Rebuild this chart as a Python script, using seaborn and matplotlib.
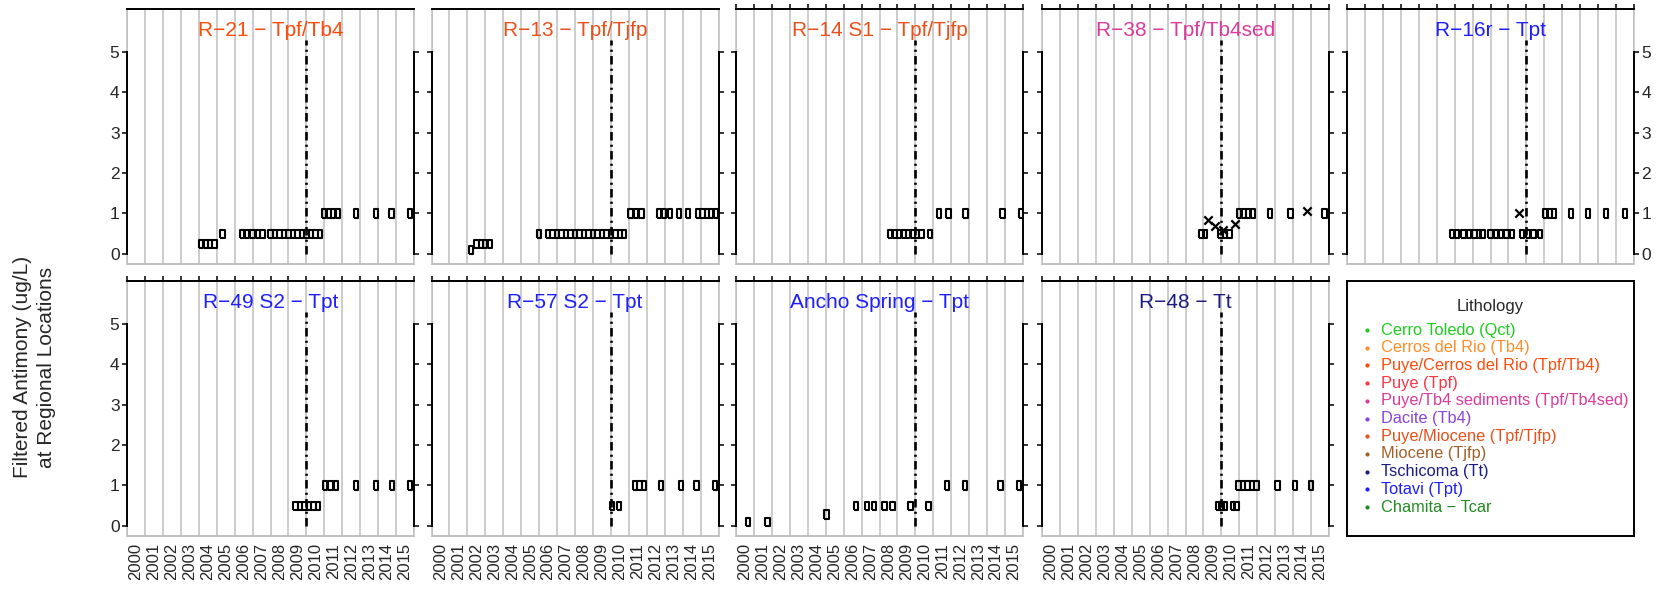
import matplotlib
matplotlib.use("Agg")
import matplotlib.pyplot as plt
from matplotlib.patches import Rectangle
from matplotlib.path import Path
import pandas as pd
import seaborn as sns

# years on the x axis, one bin per year
years = list(range(2000, 2016))
year_labels = [str(y) for y in years]
y_ticks = [0, 1, 2, 3, 4, 5]
change_year = 2010

# ---- R-21 ----
r21_nd_x = [2004.14, 2004.39, 2004.64, 2004.87, 2005.33, 2006.4, 2006.7, 2007.0, 2007.3, 2007.55,
            2008.0, 2008.25, 2008.5, 2008.75, 2009.0, 2009.25, 2009.5, 2009.75, 2010.0, 2010.25,
            2010.5, 2010.75, 2011.0, 2011.25, 2011.5, 2011.75, 2012.76, 2013.9, 2014.75, 2015.78]
r21_nd_y = [0.25, 0.25, 0.25, 0.25, 0.5, 0.5, 0.5, 0.5, 0.5, 0.5,
            0.5, 0.5, 0.5, 0.5, 0.5, 0.5, 0.5, 0.5, 0.5, 0.5,
            0.5, 0.5, 1, 1, 1, 1, 1, 1, 1, 1]

# ---- R-13 ----
r13_nd_x = [2002.2, 2002.5, 2002.75, 2003.0, 2003.25, 2006.0, 2006.5, 2006.75, 2007.0, 2007.25,
            2007.5, 2007.75, 2008.0, 2008.25, 2008.5, 2008.75, 2009.0, 2009.25, 2009.5, 2009.75,
            2010.0, 2010.25, 2010.5, 2010.75, 2011.1, 2011.4, 2011.7, 2012.7, 2012.95, 2013.3,
            2013.8, 2014.29, 2014.85, 2015.1, 2015.35, 2015.6, 2015.85]
r13_nd_y = [0.1, 0.25, 0.25, 0.25, 0.25, 0.5, 0.5, 0.5, 0.5, 0.5,
            0.5, 0.5, 0.5, 0.5, 0.5, 0.5, 0.5, 0.5, 0.5, 0.5,
            0.5, 0.5, 0.5, 0.5, 1, 1, 1, 1, 1, 1,
            1, 1, 1, 1, 1, 1, 1]

# ---- R-14 S1 ----
r14_nd_x = [2008.6, 2008.85, 2009.1, 2009.35, 2009.6, 2009.85, 2010.1, 2010.35, 2010.83,
            2011.3, 2011.84, 2012.8, 2014.86, 2015.87]
r14_nd_y = [0.5, 0.5, 0.5, 0.5, 0.5, 0.5, 0.5, 0.5, 0.5,
            1, 1, 1, 1, 1]

# ---- R-38 ----
r38_nd_x = [2008.9, 2009.1, 2009.95, 2010.2, 2010.45, 2011.0, 2011.25, 2011.5, 2011.75,
            2012.7, 2013.85, 2015.75]
r38_nd_y = [0.5, 0.5, 0.5, 0.5, 0.5, 1, 1, 1, 1, 1, 1, 1]
r38_det_x = [2009.27, 2009.66, 2010.1, 2010.75, 2014.8]
r38_det_y = [0.83, 0.69, 0.59, 0.75, 1.06]

# ---- R-16r ----
r16_nd_x = [2005.85, 2006.15, 2006.5, 2006.8, 2007.1, 2007.35, 2007.55, 2008.0, 2008.3, 2008.6,
            2008.9, 2009.2, 2009.75, 2010.1, 2010.4, 2010.75, 2011.05, 2011.3, 2011.55, 2012.47,
            2013.45, 2014.44, 2015.5]
r16_nd_y = [0.5, 0.5, 0.5, 0.5, 0.5, 0.5, 0.5, 0.5, 0.5, 0.5,
            0.5, 0.5, 0.5, 0.5, 0.5, 0.5, 1, 1, 1, 1,
            1, 1, 1]
r16_det_x = [2009.6]
r16_det_y = [1.0]

# ---- R-49 S2 ----
r49_nd_x = [2009.4, 2009.65, 2009.9, 2010.15, 2010.4, 2010.65, 2011.05, 2011.35, 2011.65,
            2012.78, 2013.9, 2014.78, 2015.78]
r49_nd_y = [0.5, 0.5, 0.5, 0.5, 0.5, 0.5, 1, 1, 1, 1, 1, 1, 1]

# ---- R-57 S2 ----
r57_nd_x = [2010.06, 2010.47, 2011.35, 2011.6, 2011.85, 2012.78, 2013.92, 2014.78, 2015.82]
r57_nd_y = [0.5, 0.5, 1, 1, 1, 1, 1, 1, 1]

# ---- Ancho Spring ----
ancho_nd_x = [2000.68, 2001.76, 2005.05, 2006.69, 2007.3, 2007.71, 2008.27, 2008.73, 2009.72,
              2010.74, 2011.77, 2012.75, 2014.75, 2015.77]
ancho_nd_y = [0.1, 0.1, 0.28, 0.5, 0.5, 0.5, 0.5, 0.5, 0.5, 0.5, 1, 1, 1, 1]

# ---- R-48 ----
r48_nd_x = [2009.8, 2010.0, 2010.2, 2010.65, 2010.85, 2010.95, 2011.2, 2011.45, 2011.7, 2011.95,
            2013.12, 2014.09, 2014.99]
r48_nd_y = [0.5, 0.5, 0.5, 0.5, 0.5, 1, 1, 1, 1, 1, 1, 1, 1]

# lithology legend
litho_labels = ["Cerro Toledo (Qct)", "Cerros del Rio (Tb4)", "Puye/Cerros del Rio (Tpf/Tb4)",
                "Puye (Tpf)", "Puye/Tb4 sediments (Tpf/Tb4sed)", "Dacite (Tb4)",
                "Puye/Miocene (Tpf/Tjfp)", "Miocene (Tjfp)", "Tschicoma (Tt)", "Totavi (Tpt)",
                "Chamita \u2212 Tcar"]
litho_colors = ["#1ECC1E", "#FF8C28", "#FF4A0A", "#FF3344", "#DB3A9C", "#8A44DD",
                "#E8501A", "#A0602A", "#1C1C82", "#1E1EFF", "#228B22"]

panels = [
    dict(title="R\u221221 \u2212 Tpf/Tb4", color=litho_colors[2], nd_x=r21_nd_x, nd_y=r21_nd_y),
    dict(title="R\u221213 \u2212 Tpf/Tjfp", color=litho_colors[6], nd_x=r13_nd_x, nd_y=r13_nd_y),
    dict(title="R\u221214 S1 \u2212 Tpf/Tjfp", color=litho_colors[6], nd_x=r14_nd_x, nd_y=r14_nd_y),
    dict(title="R\u221238 \u2212 Tpf/Tb4sed", color=litho_colors[4], nd_x=r38_nd_x, nd_y=r38_nd_y,
         det_x=r38_det_x, det_y=r38_det_y),
    dict(title="R\u221216r \u2212 Tpt", color=litho_colors[9], nd_x=r16_nd_x, nd_y=r16_nd_y,
         det_x=r16_det_x, det_y=r16_det_y),
    dict(title="R\u221249 S2 \u2212 Tpt", color=litho_colors[9], nd_x=r49_nd_x, nd_y=r49_nd_y),
    dict(title="R\u221257 S2 \u2212 Tpt", color=litho_colors[9], nd_x=r57_nd_x, nd_y=r57_nd_y),
    dict(title="Ancho Spring \u2212 Tpt", color=litho_colors[9], nd_x=ancho_nd_x, nd_y=ancho_nd_y),
    dict(title="R\u221248 \u2212 Tt", color=litho_colors[8], nd_x=r48_nd_x, nd_y=r48_nd_y),
]

sns.set_style("white")
plt.rcParams["font.family"] = ["Liberation Sans", "DejaVu Sans"]

W, H = 1669, 594
fig = plt.figure(figsize=(W / 100, H / 100), dpi=100)

col_left = [127, 431.5, 736, 1042, 1347]
row_top = [9, 281]
PW, PH = 287, 255
GRAY = "#BEBEBE"


def box(left, top):
    return [left / W, 1 - (top + PH) / H, PW / W, PH / H]


# narrow open box used for non-detects
nd_marker = Path([(-0.26, -0.5), (0.26, -0.5), (0.26, 0.5), (-0.26, 0.5), (-0.26, -0.5)])

for i, p in enumerate(panels):
    row, col = divmod(i, 5)
    ax = fig.add_axes(box(col_left[col], row_top[row]))

    nd = pd.DataFrame({"year": p["nd_x"], "value": p["nd_y"]})
    sns.scatterplot(data=nd, x="year", y="value", ax=ax, marker=nd_marker, s=36,
                    facecolor="none", edgecolor="black", linewidth=1.5, zorder=4)
    if "det_x" in p:
        det = pd.DataFrame({"year": p["det_x"], "value": p["det_y"]})
        sns.scatterplot(data=det, x="year", y="value", ax=ax, marker="x", s=36,
                        color="black", linewidth=1.6, zorder=4)

    ax.vlines(change_year, 0, 5.3, colors="black", linewidth=1.9,
              linestyles=(0, (3.2, 1.6, 0.8, 1.6)), zorder=3)

    ax.set_xlim(2000, 2016)
    ax.set_ylim(-0.25, 6.06)
    ax.set_xlabel("")
    ax.set_ylabel("")

    ax.set_xticks([y + 0.5 for y in years])
    ax.set_xticklabels(year_labels, rotation=90)
    ax.set_xticks(range(2000, 2017), minor=True)
    ax.tick_params(axis="x", which="major", length=0, pad=4.8, labelsize=12,
                   bottom=True, top=False, labelbottom=(row == 1), labeltop=False)
    top_ticks = not (row == 0 and col < 2)
    ax.tick_params(axis="x", which="minor", bottom=False, top=top_ticks, length=3.6,
                   width=1.1, direction="out", color="black")
    ax.grid(True, axis="x", which="minor", color=GRAY, linewidth=1.1)
    ax.grid(False, axis="y")

    ax.set_yticks(y_ticks)
    ax.tick_params(axis="y", left=True, right=True, direction="out", length=3.4, width=1.1,
                   color="black", labelleft=(col == 0), labelright=(row == 0 and col == 4),
                   labelsize=12.5, pad=2)

    ax.spines["bottom"].set_color(GRAY)
    ax.spines["bottom"].set_linewidth(1.1)
    ax.spines["top"].set_color("black")
    ax.spines["top"].set_linewidth(1.4)
    for side in ["left", "right"]:
        ax.spines[side].set_bounds(0, 5)
        ax.spines[side].set_color("black")
        ax.spines[side].set_linewidth(1.4)
    ax.add_patch(Rectangle((0, 0), 1, 1, transform=ax.transAxes, fill=False, ec=GRAY,
                           lw=1.1, clip_on=False, zorder=2.4))

    ax.text(0.5, (PH - 27) / PH, p["title"], transform=ax.transAxes, ha="center",
            va="baseline", color=p["color"], fontsize=15)

# legend panel
lax = fig.add_axes(box(col_left[4], row_top[1]))
lax.set_xticks([])
lax.set_yticks([])
for s in lax.spines.values():
    s.set_color("black")
    s.set_linewidth(1.4)
lax.text(0.5, (PH - 26) / PH, "Lithology", transform=lax.transAxes, ha="center",
         va="center", fontsize=12)
for k, (lab, c) in enumerate(zip(litho_labels, litho_colors)):
    yy = (PH - (49 + 17.7 * k)) / PH
    lax.scatter([0.07], [yy], s=4, color=c, transform=lax.transAxes)
    lax.text(0.118, yy, lab, transform=lax.transAxes, ha="left", va="center",
             color=c, fontsize=11.8)

fig.text(34.5 / W, 1 - 367 / H, "Filtered Antimony (ug/L)\nat Regional Locations",
         rotation=90, ha="center", va="center", multialignment="center",
         fontsize=15, linespacing=1.3)

fig.savefig("out.png", dpi=100)
